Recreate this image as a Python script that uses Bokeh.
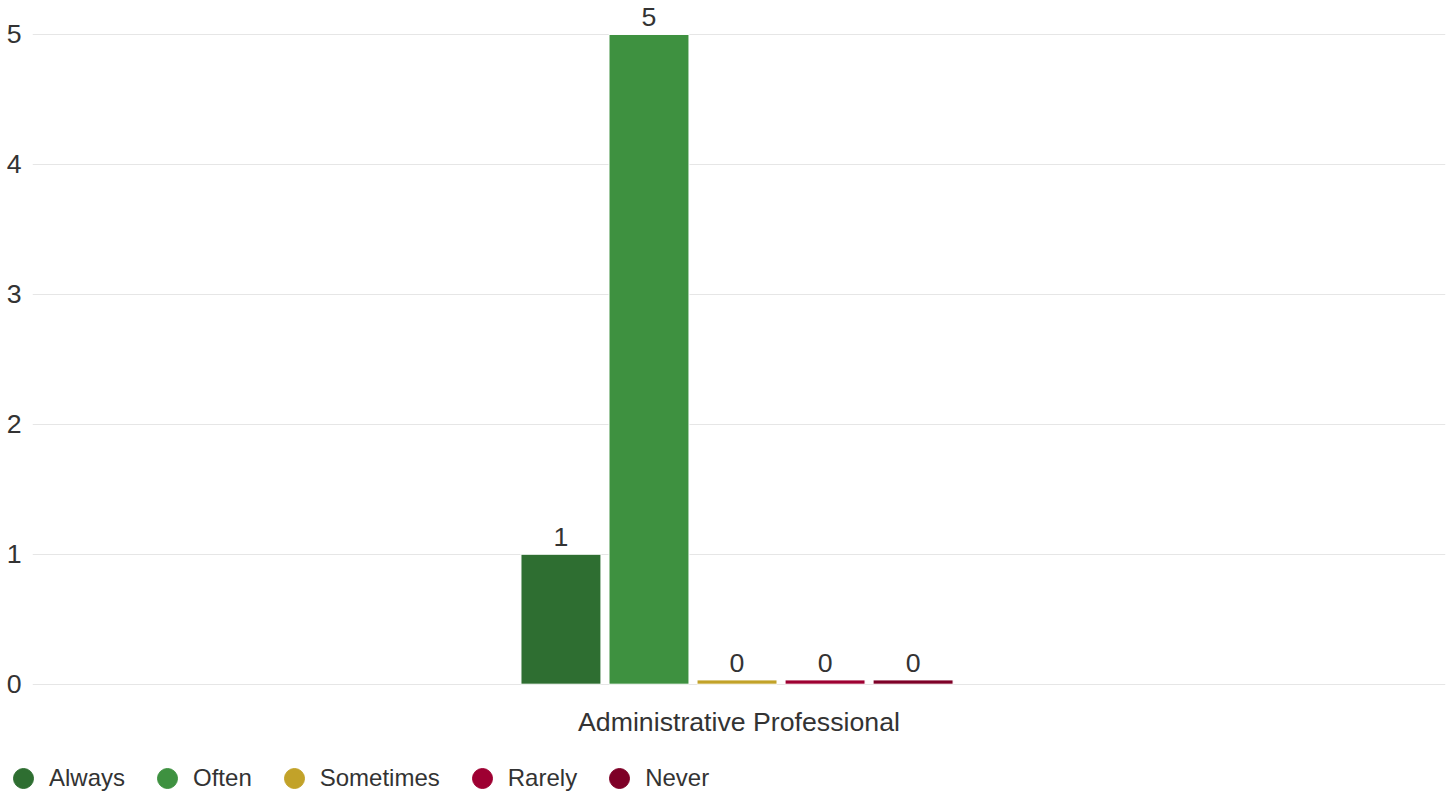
from bokeh.plotting import figure
from bokeh.layouts import column
from bokeh.models import FactorRange, Range1d, ColumnDataSource, Legend, LegendItem, FixedTicker
from bokeh.transform import dodge
from bokeh.core.properties import value
from bokeh.embed import file_html
from bokeh.resources import INLINE

# ---- data ----
categories = ["Administrative Professional"]
series_names = ["Always", "Often", "Sometimes", "Rarely", "Never"]
always = [1]
often = [5]
sometimes = [0]
rarely = [0]
never = [0]
series_values = [always, often, sometimes, rarely, never]
colors = ["#2e6e31", "#3e9140", "#c2a229", "#9e0032", "#7e0027"]
y_ticks = [0, 1, 2, 3, 4, 5]

FONT = "Liberation Sans"
TEXT = "#333333"
MIN_BAR = 0.033          # minimum drawn height for zero-valued bars (style)
BAR_W = 0.0566
STEP = 0.0623
SHIFT = -0.0014

p = figure(
    x_range=FactorRange(factors=categories, range_padding=0),
    y_range=Range1d(-0.01, 5.2615),
    frame_width=1413, frame_height=685,
    min_border_left=32, min_border_right=10, min_border_top=0, min_border_bottom=71,
    output_backend="svg", toolbar_location=None,
)
p.frame_align = False
p.outline_line_color = None
p.background_fill_color = "white"
p.border_fill_color = "white"

p.xgrid.grid_line_color = None
p.ygrid.grid_line_color = "#e6e6e6"
p.ygrid.grid_line_width = 1

p.yaxis.ticker = FixedTicker(ticks=y_ticks)
for ax in (p.xaxis, p.yaxis):
    ax.axis_line_color = None
    ax.major_tick_line_color = None
    ax.minor_tick_line_color = None
    ax.major_tick_out = 0
    ax.major_tick_in = 0
    ax.minor_tick_out = 0
    ax.major_label_text_font = FONT
    ax.major_label_text_font_size = "26.7px"
    ax.major_label_text_color = TEXT
p.yaxis.major_label_standoff = 11
p.xaxis.major_label_standoff = 21

# ---- legend strip (separate figure so it is not clipped by the chart frame) ----
lf = figure(
    width=1455, height=41, x_range=Range1d(0, 1), y_range=Range1d(0, 1),
    min_border=0, min_border_left=0, min_border_right=0, min_border_top=0, min_border_bottom=0,
    x_axis_location=None, y_axis_location=None,
    output_backend="svg", toolbar_location=None,
)
lf.frame_align = False
lf.outline_line_color = None
lf.xgrid.visible = False
lf.ygrid.visible = False

legend_items = []
n = len(series_names)
for i, (name, vals, col) in enumerate(zip(series_names, series_values, colors)):
    off = (i - (n - 1) / 2) * STEP + SHIFT
    src = ColumnDataSource(dict(
        cat=categories,
        val=vals,
        top=[max(v, MIN_BAR) for v in vals],
        lbl=[str(v) for v in vals],
    ))
    p.vbar(x=dodge("cat", off, range=p.x_range), top="top", bottom=0, width=BAR_W,
           source=src, fill_color=col, line_color="white", line_width=1)
    p.text(x=dodge("cat", off, range=p.x_range), y="top", text="lbl", source=src,
           text_align="center", text_baseline="alphabetic", y_offset=-17,
           text_font=value(FONT), text_font_size="26.7px", text_color=TEXT)
    # legend key only: a single non-drawn (NaN) point so the marker has a style entry
    r = lf.scatter(x=[float("nan")], y=[float("nan")], marker="circle", size=20,
                   fill_color=col, line_color=col)
    legend_items.append(LegendItem(label=name, renderers=[r]))

legend = Legend(
    items=legend_items, orientation="horizontal",
    location=(-2, -6),
    glyph_width=50, glyph_height=50, label_standoff=1, spacing=17,
    padding=0, margin=0,
    label_text_font=FONT, label_text_font_size="24px", label_text_color=TEXT,
    background_fill_alpha=0, border_line_color=None,
)
lf.add_layout(legend, "center")

layout = column(p, lf, spacing=0)
open("out.html", "w").write(file_html(layout, INLINE))
